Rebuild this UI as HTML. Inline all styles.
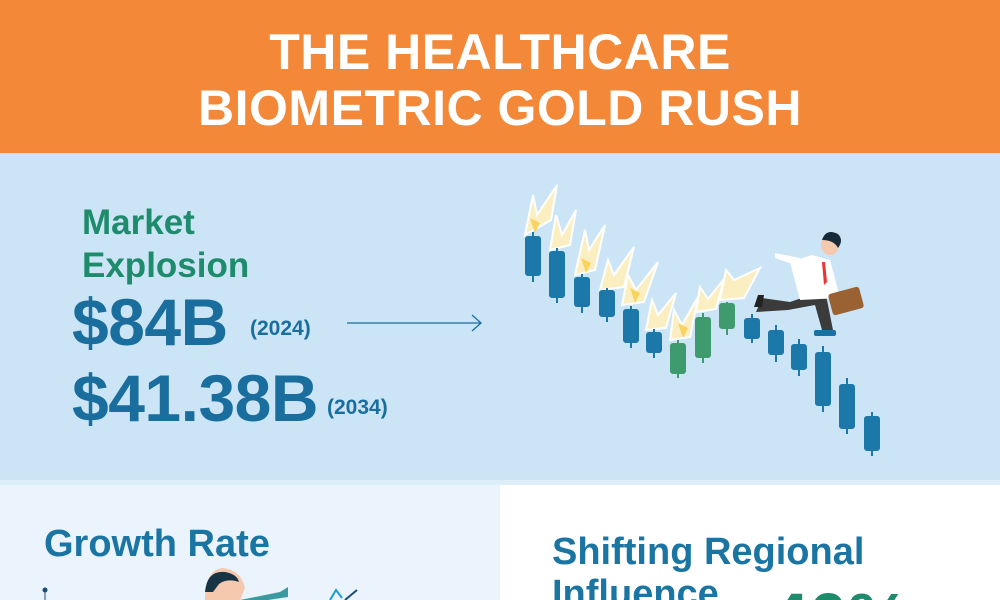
<!DOCTYPE html>
<html style="width:1000px;height:600px;overflow:hidden"><head><style>
html,body{margin:0;padding:0}
body{width:1000px;height:600px;overflow:hidden;font-family:"Liberation Sans",sans-serif;background:#fff}
#w{position:relative;width:1000px;height:600px;overflow:hidden}
.hdr{position:absolute;left:0;top:0;width:1000px;height:153px;background:#F28838}
.t{position:absolute;left:0;width:1000px;text-align:center;color:#fff;font-weight:bold;font-size:50px;letter-spacing:0.5px}
.mid{position:absolute;left:0;top:153px;width:1000px;height:327px;background:#CCE5F6}
.sep{position:absolute;left:0;top:480px;width:1000px;height:5px;background:#DDEEF9}
.bl{position:absolute;left:0;top:485px;width:500px;height:115px;background:#EBF3FC}
.a{position:absolute;font-weight:bold;white-space:nowrap}
</style></head><body><div id="w">
<div class="hdr"></div>
<div class="t" style="top:23px">THE HEALTHCARE</div>
<div class="t" style="top:79px">BIOMETRIC GOLD RUSH</div>
<div class="mid"></div>
<div class="sep"></div>
<div class="bl"></div>
<div class="a" style="left:82px;top:201px;font-size:35px;color:#1E8B6C;line-height:43px">Market<br>Explosion</div>
<div class="a" style="left:72px;top:284px;font-size:66px;color:#1A6E9E;letter-spacing:-0.5px">$84B</div>
<div class="a" style="left:250px;top:317px;font-size:21px;color:#1A6E9E">(2024)</div>
<div class="a" style="left:72px;top:360px;font-size:66px;color:#1A6E9E;letter-spacing:-0.5px">$41.38B</div>
<div class="a" style="left:327px;top:396px;font-size:21px;color:#1A6E9E">(2034)</div>
<svg style="position:absolute;left:0;top:0" width="1000" height="600">
<line x1="347" y1="323" x2="481" y2="323" stroke="#1A6E9E" stroke-width="1.3"/>
<polyline points="472,315 481,323 472,331" fill="none" stroke="#1A6E9E" stroke-width="1.3"/>
<g fill="#FBEFC2" stroke="#fff" stroke-width="2">
<path d="M525,235 l8,-40 l4,20 l20,-30 l-6,35 z"/>
<path d="M550,250 l6,-35 l6,20 l14,-25 l-6,35 z"/>
<path d="M575,275 l10,-45 l4,20 l16,-25 l-10,45 z"/>
<path d="M600,290 l8,-30 l6,15 l20,-28 l-10,40 z"/>
<path d="M622,305 l6,-30 l8,15 l22,-28 l-14,40 z"/>
<path d="M646,330 l6,-30 l6,15 l18,-22 l-10,35 z"/>
<path d="M670,340 l4,-30 l8,15 l16,-28 l-8,40 z"/>
<path d="M696,312 l4,-25 l8,12 l16,-20 l-8,30 z"/>
<path d="M720,300 l6,-30 l8,10 l26,-12 l-16,30 z"/>
</g>
<g fill="#FAD25E"><path d="M535,233 l-5,-15 l10,5 l6,-12 z"/><path d="M586,273 l-5,-15 l10,5 l6,-12 z"/><path d="M635,303 l-5,-15 l10,5 l6,-12 z"/><path d="M683,338 l-5,-15 l10,5 l6,-12 z"/></g>
<g stroke-width="2">
<g stroke="#1B78A8" fill="#1B78A8">
<line x1="533" y1="232" x2="533" y2="282"/><rect x="526" y="237" width="14" height="38" rx="2"/>
<line x1="557" y1="248" x2="557" y2="303"/><rect x="550" y="252" width="14" height="45" rx="2"/>
<line x1="582" y1="274" x2="582" y2="313"/><rect x="575" y="278" width="14" height="28" rx="2"/>
<line x1="607" y1="288" x2="607" y2="322"/><rect x="600" y="291" width="14" height="25" rx="2"/>
<line x1="631" y1="306" x2="631" y2="348"/><rect x="624" y="310" width="14" height="32" rx="2"/>
<line x1="654" y1="329" x2="654" y2="358"/><rect x="647" y="333" width="14" height="19" rx="2"/>
<line x1="752" y1="314" x2="752" y2="343"/><rect x="745" y="319" width="14" height="19" rx="2"/>
<line x1="776" y1="325" x2="776" y2="362"/><rect x="769" y="331" width="14" height="23" rx="2"/>
<line x1="799" y1="339" x2="799" y2="376"/><rect x="792" y="345" width="14" height="24" rx="2"/>
<line x1="823" y1="346" x2="823" y2="412"/><rect x="816" y="353" width="14" height="52" rx="2"/>
<line x1="847" y1="378" x2="847" y2="434"/><rect x="840" y="385" width="14" height="43" rx="2"/>
<line x1="872" y1="412" x2="872" y2="456"/><rect x="865" y="417" width="14" height="33" rx="2"/>
</g>
<g stroke="#3F9A6E" fill="#3F9A6E">
<line x1="678" y1="340" x2="678" y2="378"/><rect x="671" y="344" width="14" height="29" rx="2"/>
<line x1="703" y1="313" x2="703" y2="363"/><rect x="696" y="318" width="14" height="39" rx="2"/>
<line x1="727" y1="302" x2="727" y2="335"/><rect x="720" y="304" width="14" height="24" rx="2"/>
</g>
</g>
<path d="M790,302 L762,298 L756,312 L788,310 L815,305 L822,330 L833,330 L825,290 Z" fill="#3B3B3B"/>
<path d="M790,262 L812,255 L830,260 L840,298 L800,300 Z" fill="#fff"/>
<path d="M775,253 L800,258 L798,266 L775,258 Z" fill="#fff"/>
<path d="M822,262 l3,0 l2,20 l-3,3 z" fill="#E33"/>
<ellipse cx="830" cy="245" rx="9" ry="10" fill="#F5C9AE"/>
<path d="M822,240 q4,-12 16,-6 q6,6 0,14 q-4,-8 -16,-8z" fill="#172A3A"/>
<rect x="830" y="290" width="32" height="22" rx="3" fill="#9A6232" transform="rotate(-15 846 301)"/>
<path d="M758,295 l6,0 l-2,12 l-8,0z" fill="#222"/>
<rect x="814" y="330" width="22" height="6" rx="2" fill="#1B6FA8"/>
</svg>
<div class="a" style="left:44px;top:523px;font-size:38px;color:#1A75A3">Growth Rate</div>
<div class="a" style="left:552px;top:531px;font-size:38px;color:#1A75A3;line-height:42px">Shifting Regional<br>Influence</div>
<div class="a" style="left:770px;top:578px;font-size:70px;color:#1E8B6C;line-height:80px">40%</div>
<svg style="position:absolute;left:0;top:0" width="1000" height="600">
<circle cx="45" cy="590" r="2.5" fill="#1A4C7A"/><line x1="45" y1="590" x2="45" y2="600" stroke="#1A4C7A"/>
<path d="M205,600 q0,-30 18,-32 q18,2 22,20 l-5,12z" fill="#F5C9AE"/>
<path d="M205,592 q2,-22 20,-20 q12,2 14,10 q-12,-4 -20,2 l-6,8 z" fill="#173445"/>
<path d="M240,600 l40,-8 l8,-5 l0,10 l-20,3z" fill="#3A9AA0"/>
<path d="M330,600 l6,-10 l6,8" stroke="#1B9ED6" stroke-width="2" fill="none"/>
<path d="M345,600 l12,-10" stroke="#1A4C7A" stroke-width="2" fill="none"/>
</svg>
</div></body></html>
